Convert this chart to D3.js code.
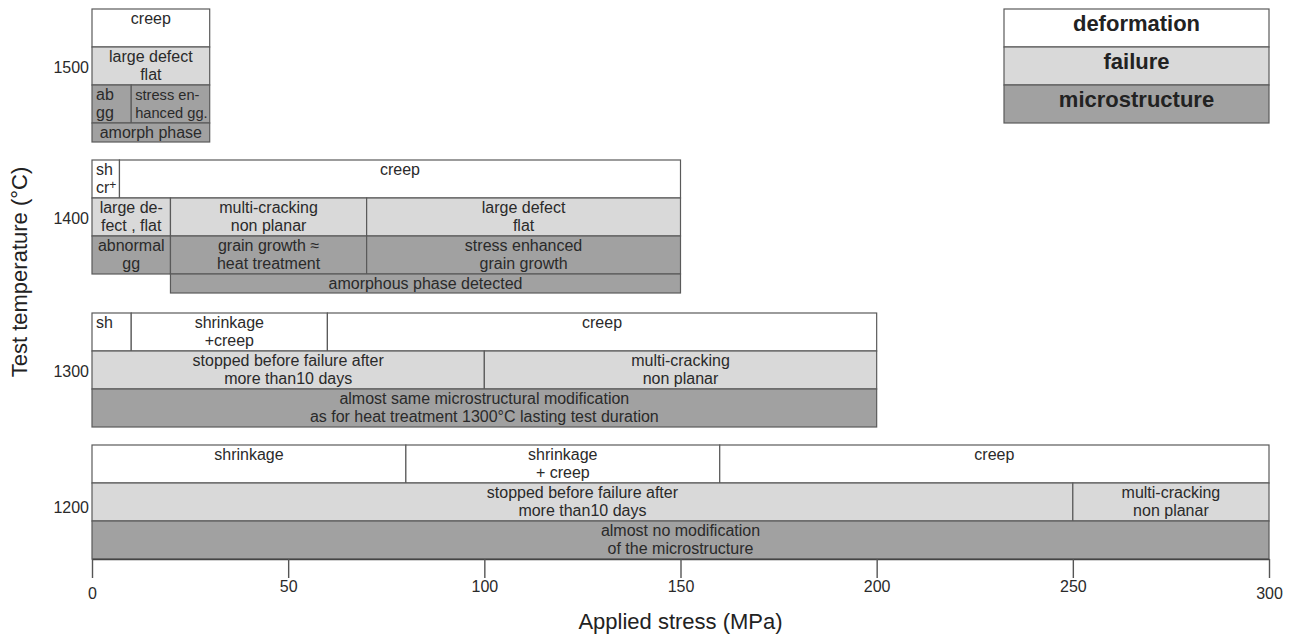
<!DOCTYPE html>
<html>
<head>
<meta charset="utf-8">
<script src="https://cdn.jsdelivr.net/npm/d3@7"></script>
<style>
  body { margin: 0; background: #fff; }
  svg { font-family: "Liberation Sans", Arial, sans-serif; }
  .cell { stroke: #5a5a5a; stroke-width: 1.2; }
  .lbl { fill: #2a2a2a; font-size: 16px; }
</style>
</head>
<body>
<svg id="chart" width="1292" height="639"></svg>
<script>
// test temperatures (y ticks) and the three rows of each block
var temps = [1500, 1400, 1300, 1200];
var rowNames = ["deformation", "failure", "microstructure", "extra"];
var stressTicks = [0, 50, 100, 150, 200, 250, 300];

// cells per temperature: row, stress from / to (MPa), text ("|" = line break)
var cells1500 = [
  { row: "deformation", from: 0, to: 30, text: "creep" },
  { row: "failure", from: 0, to: 30, text: "large defect|flat" },
  { row: "microstructure", from: 0, to: 10, text: "ab|gg" },
  { row: "microstructure", from: 10, to: 30, text: "stress en-|hanced gg." },
  { row: "extra", from: 0, to: 30, text: "amorph phase" }
];
var cells1400 = [
  { row: "deformation", from: 0, to: 7, text: "sh|cr^+" },
  { row: "deformation", from: 7, to: 150, text: "creep" },
  { row: "failure", from: 0, to: 20, text: "large de-|fect , flat" },
  { row: "failure", from: 20, to: 70, text: "multi-cracking|non planar" },
  { row: "failure", from: 70, to: 150, text: "large defect|flat" },
  { row: "microstructure", from: 0, to: 20, text: "abnormal|gg" },
  { row: "microstructure", from: 20, to: 70, text: "grain growth \u2248|heat treatment" },
  { row: "microstructure", from: 70, to: 150, text: "stress enhanced|grain growth" },
  { row: "extra", from: 20, to: 150, text: "amorphous phase detected" }
];
var cells1300 = [
  { row: "deformation", from: 0, to: 10, text: "sh" },
  { row: "deformation", from: 10, to: 60, text: "shrinkage|+creep" },
  { row: "deformation", from: 60, to: 200, text: "creep" },
  { row: "failure", from: 0, to: 100, text: "stopped before failure after|more than10 days" },
  { row: "failure", from: 100, to: 200, text: "multi-cracking|non planar" },
  { row: "microstructure", from: 0, to: 200, text: "almost same microstructural modification|as for heat treatment 1300\u00b0C lasting test duration" }
];
var cells1200 = [
  { row: "deformation", from: 0, to: 80, text: "shrinkage" },
  { row: "deformation", from: 80, to: 160, text: "shrinkage|+ creep" },
  { row: "deformation", from: 160, to: 300, text: "creep" },
  { row: "failure", from: 0, to: 250, text: "stopped before failure after|more than10 days" },
  { row: "failure", from: 250, to: 300, text: "multi-cracking|non planar" },
  { row: "microstructure", from: 0, to: 300, text: "almost no modification|of the microstructure" }
];
var blocks = [
  { temp: 1500, cells: cells1500 },
  { temp: 1400, cells: cells1400 },
  { temp: 1300, cells: cells1300 },
  { temp: 1200, cells: cells1200 }
];
var legendRows = ["deformation", "failure", "microstructure"];

//////////////////////////////////////////////////////////////////////////////
// layout

var svg = d3.select("#chart");
var rowH = 38, extraH = 19;
var fills = { deformation: "#ffffff", failure: "#d9d9d9", microstructure: "#a1a1a1", extra: "#a1a1a1" };
// labels that sit at the left edge of their cell instead of centred
var leftAligned = ["ab|gg", "stress en-|hanced gg.", "sh|cr^+", "sh"];

var x = d3.scaleLinear().domain([0, 300]).range([92, 1269]);
// the original figure does not space the blocks evenly
var y = d3.scaleLinear().domain([1200, 1300, 1400, 1500]).range([502, 370, 217, 66]);

function rowTop(temp, row) {
  var i = rowNames.indexOf(row);
  return y(temp) - 1.5 * rowH + i * rowH;
}
function rowHeight(row) { return row === "extra" ? extraH : rowH; }

function drawLines(g, lines, tx, ty, anchor, size, step, maxW) {
  var t = g.append("text")
    .attr("class", "lbl")
    .attr("text-anchor", anchor)
    .style("font-size", size + "px");
  lines.forEach(function(line, k) {
    var parts = line.split("^");
    var ts = t.append("tspan").attr("x", tx).attr("y", ty + k * step).text(parts[0]);
    if (parts[1]) t.append("tspan").attr("dy", -4).style("font-size", "12px").text(parts[1]);
  });
  // shrink a little when a label is wider than its cell
  var w = t.node().getBBox().width;
  if (w > maxW) t.style("font-size", (size * maxW / w).toFixed(2) + "px");
}

blocks.forEach(function(b) {
  var g = svg.append("g").attr("class", "block");
  b.cells.forEach(function(c) {
    var top = rowTop(b.temp, c.row), h = rowHeight(c.row);
    var w = x(c.to) - x(c.from);
    g.append("rect")
      .attr("class", "cell")
      .attr("x", x(c.from))
      .attr("y", top)
      .attr("width", w)
      .attr("height", h)
      .attr("fill", fills[c.row]);
    var left = leftAligned.indexOf(c.text) >= 0;
    drawLines(g, c.text.split("|"),
      left ? x(c.from) + 4 : (x(c.from) + x(c.to)) / 2,
      top + 15,
      left ? "start" : "middle", 16, 18, w - 6);
  });
});

// legend, top right
var lg = svg.append("g").attr("class", "legend");
var lgW = 265, lgX = x(300) - lgW, lgY = rowTop(1500, "deformation");
legendRows.forEach(function(r, i) {
  lg.append("rect")
    .attr("class", "cell")
    .attr("x", lgX).attr("y", lgY + i * rowH)
    .attr("width", lgW).attr("height", rowH)
    .attr("fill", fills[r]);
  lg.append("text")
    .attr("x", lgX + lgW / 2).attr("y", lgY + i * rowH + 22)
    .attr("text-anchor", "middle")
    .style("font-size", "22px").style("font-weight", "bold").style("fill", "#222")
    .text(r);
});

// x axis
var axisY = y(1200) + 1.5 * rowH;
var xAxis = svg.append("g")
  .attr("transform", "translate(0," + axisY + ")")
  .call(d3.axisBottom(x).tickValues(stressTicks).tickSize(19).tickSizeOuter(0).tickPadding(4));
xAxis.select(".domain").attr("stroke", "#444").attr("stroke-width", 1.4);
xAxis.selectAll(".tick line").attr("stroke", "#555").attr("stroke-width", 1.4);
xAxis.selectAll(".tick text")
  .style("font-size", "16px").style("font-family", "Liberation Sans, Arial, sans-serif").attr("fill", "#2a2a2a")
  .attr("y", function(d) { return (d === 0 || d === 300) ? 29 : 22; });

// y tick labels (no axis line in the original)
svg.append("g").selectAll("text")
  .data(temps)
  .join("text")
  .attr("class", "lbl")
  .attr("x", 89)
  .attr("y", function(d) { return y(d) + (d === 1200 ? 5 : 1); })
  .attr("dy", "0.35em")
  .attr("text-anchor", "end")
  .text(function(d) { return d; });

// axis titles
svg.append("text")
  .attr("x", (x(0) + x(300)) / 2).attr("y", 629)
  .attr("text-anchor", "middle")
  .style("font-size", "22px").style("fill", "#222")
  .text("Applied stress (MPa)");
svg.append("text")
  .attr("transform", "translate(27," + 272 + ") rotate(-90)")
  .attr("text-anchor", "middle")
  .style("font-size", "22px").style("fill", "#222")
  .text("Test temperature (\u00b0C)");
</script>
</body>
</html>
